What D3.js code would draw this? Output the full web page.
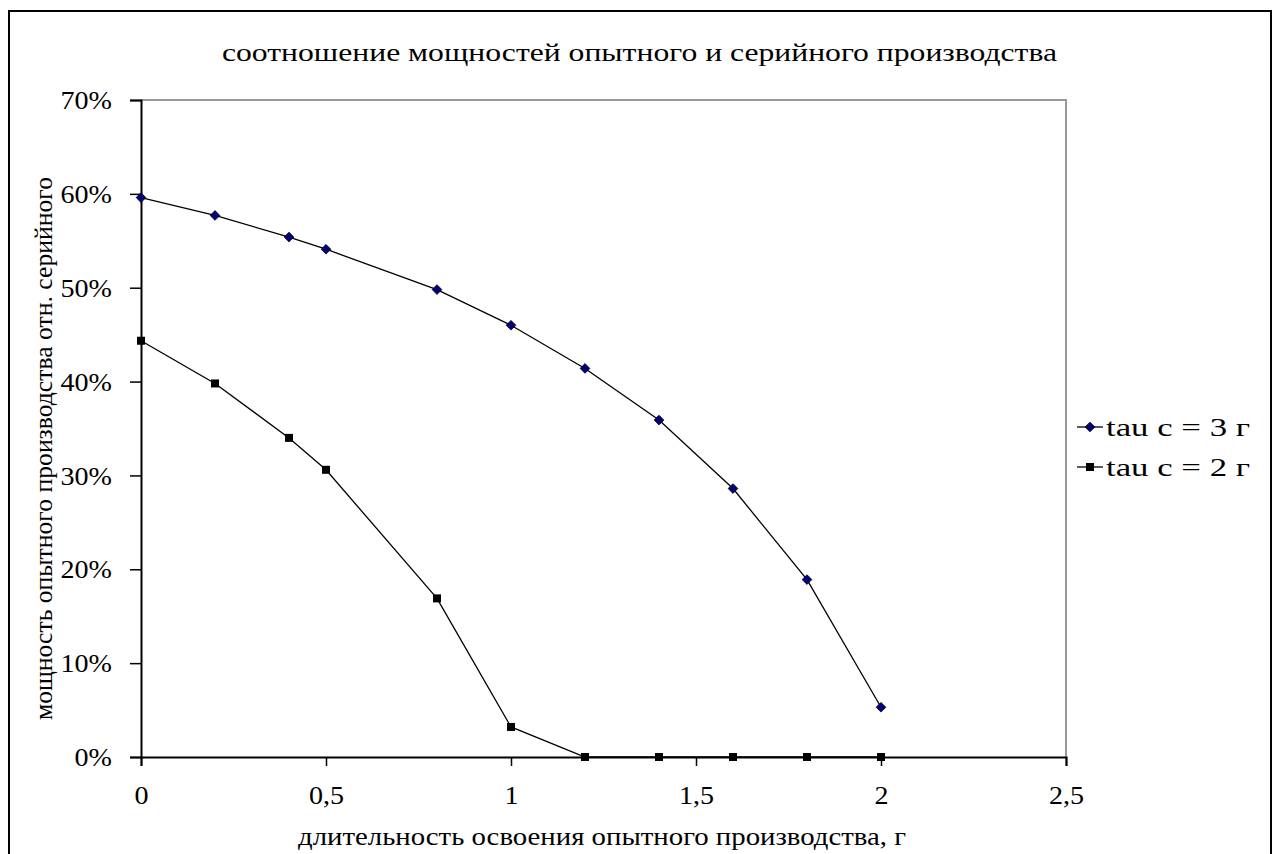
<!DOCTYPE html>
<html><head><meta charset="utf-8">
<script src="https://cdn.jsdelivr.net/npm/d3@7"></script>
<style>body{margin:0;background:#fff}svg{display:block}</style>
</head><body><svg id="c" width="1276" height="854"></svg>
<script>
const xValues = [0, 0.2, 0.4, 0.5, 0.8, 1, 1.2, 1.4, 1.6, 1.8, 2];
const seriesNames = ["tau c = 3 г", "tau c = 2 г"];
const tau3 = [59.6, 57.7, 55.4, 54.1, 49.8, 46.0, 41.4, 35.9, 28.6, 18.9, 5.3];
const tau2 = [44.35, 39.8, 34.0, 30.6, 16.9, 3.2, 0, 0, 0, 0, 0];
const xTicks = [0, 0.5, 1, 1.5, 2, 2.5];
const yTicks = [0, 10, 20, 30, 40, 50, 60, 70];
const title = "соотношение мощностей опытного и серийного производства";
const xTitle = "длительность освоения опытного производства, г";
const yTitle = "мощность опытного производства отн. серийного";

const FONT = "'Liberation Serif', 'Times New Roman', serif";
const FS = 26;
const svg = d3.select("#c");
const L = 141, R = 1066, T = 100, B = 757;
const x = d3.scaleLinear().domain([0, 2.5]).range([L, R]);
const y = d3.scaleLinear().domain([0, 70]).range([B, T]);

function fit(sel, width) {
  sel.attr("textLength", width).attr("lengthAdjust", "spacingAndGlyphs");
}
function stretch(sel, k) {
  sel.each(function () {
    const w = this.getComputedTextLength();
    d3.select(this).attr("textLength", w * k).attr("lengthAdjust", "spacingAndGlyphs");
  });
}

// outer frame
svg.append("rect").attr("x", 9).attr("y", 11).attr("width", 1262).attr("height", 860)
  .attr("fill", "none").attr("stroke", "#000").attr("stroke-width", 2);

// plot border top/right
svg.append("path").attr("d", `M${L},${T}H${R}V${B}`).attr("fill", "none").attr("stroke", "#999").attr("stroke-width", 2);

const fmt = d => String(d).replace(".", ",");
const xAxis = svg.append("g").attr("transform", `translate(0,${B})`)
  .call(d3.axisBottom(x).tickValues(xTicks).tickFormat(fmt).tickSize(9).tickPadding(16));
const yAxis = svg.append("g").attr("transform", `translate(${L},0)`)
  .call(d3.axisLeft(y).tickValues(yTicks).tickFormat(d => d + "%").tickSize(11).tickPadding(18));
[xAxis, yAxis].forEach(a => {
  a.attr("font-family", null).attr("font-size", null);
  a.select(".domain").attr("stroke", "#000").attr("stroke-width", 2);
  a.selectAll(".tick line").attr("stroke", "#000").attr("stroke-width", 1.5);
  a.selectAll("text").attr("fill", "#000").style("font-family", FONT).style("font-size", FS + "px");
});
yAxis.selectAll("text").attr("dy", "0.33em");
xAxis.selectAll("text").attr("y", 47).attr("dy", 0);
stretch(yAxis.selectAll("text"), 1.08);
stretch(xAxis.selectAll("text"), 1.08);

const line = d3.line().x(d => x(d[0])).y(d => y(d[1]));
const d3s = xValues.map((v, i) => [v, tau3[i]]);
const d2s = xValues.map((v, i) => [v, tau2[i]]);
svg.append("path").datum(d3s).attr("d", line).attr("fill", "none").attr("stroke", "#000").attr("stroke-width", 1.3);
svg.append("path").datum(d2s).attr("d", line).attr("fill", "none").attr("stroke", "#000").attr("stroke-width", 1.3);

const diamond = d3.symbol().type(d3.symbolDiamond2).size(60);
svg.selectAll(".m3").data(d3s).join("path").attr("class", "m3")
  .attr("d", diamond).attr("transform", d => `translate(${x(d[0])},${y(d[1])})`)
  .attr("fill", "#000080").attr("stroke", "#000").attr("stroke-width", 0.8);
svg.selectAll(".m2").data(d2s).join("rect").attr("class", "m2")
  .attr("x", d => x(d[0]) - 4).attr("y", d => y(d[1]) - 4).attr("width", 8).attr("height", 8)
  .attr("fill", "#000");

function txt(s) { return svg.append("text").style("font-family", FONT).style("font-size", FS + "px").attr("fill", "#000").text(s); }

// titles
const tt = txt(title).attr("x", 222).attr("y", 61);
fit(tt, 835);
const xt = txt(xTitle).attr("x", 298).attr("y", 845);
fit(xt, 608);
const yt = txt(yTitle).attr("transform", "translate(52,720) rotate(-90)");
fit(yt, 543);

// legend
const lg = [{y: 427, name: seriesNames[0], t: 0}, {y: 467, name: seriesNames[1], t: 1}];
lg.forEach(e => {
  svg.append("line").attr("x1", 1077).attr("x2", 1103).attr("y1", e.y).attr("y2", e.y).attr("stroke", "#000").attr("stroke-width", 1.3);
  if (e.t === 0) svg.append("path").attr("d", diamond).attr("transform", `translate(1090,${e.y})`).attr("fill", "#000080").attr("stroke", "#000").attr("stroke-width", 0.8);
  else svg.append("rect").attr("x", 1086).attr("y", e.y - 4).attr("width", 8).attr("height", 8).attr("fill", "#000");
  const t = txt(e.name).attr("x", 1106).attr("y", e.y).attr("dy", "0.33em");
  fit(t, 144);
});
</script></body></html>
